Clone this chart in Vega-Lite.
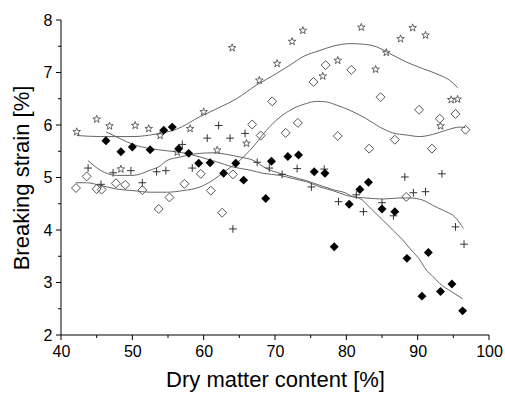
{
  "$schema": "https://vega.github.io/schema/vega-lite/v6.json",
  "width": 428,
  "height": 315,
  "autosize": {"type": "none"},
  "padding": {"left": 61, "top": 20, "right": 16, "bottom": 62},
  "background": "white",
  "config": {
    "view": {"stroke": null},
    "font": "Liberation Sans",
    "axis": {"grid": false, "labelFont": "Liberation Sans", "titleFont": "Liberation Sans", "titleFontWeight": "normal", "labelFontSize": 16, "titleFontSize": 22, "labelFlush": false, "labelOverlap": false, "labelColor": "black", "titleColor": "black"}
  },
  "datasets": {
    "frame": [
      {"k": "xaxis", "x": 40, "y": 2}, {"k": "xaxis", "x": 100, "y": 2},
      {"k": "yaxis", "x": 40, "y": 2}, {"k": "yaxis", "x": 40, "y": 8}
    ],
    "xmaj": [{"v": 40}, {"v": 50}, {"v": 60}, {"v": 70}, {"v": 80}, {"v": 90}, {"v": 100}],
    "xmin": [{"v": 45}, {"v": 55}, {"v": 65}, {"v": 75}, {"v": 85}, {"v": 95}],
    "ymaj": [{"v": 2}, {"v": 3}, {"v": 4}, {"v": 5}, {"v": 6}, {"v": 7}, {"v": 8}],
    "ymin": [{"v": 2.5}, {"v": 3.5}, {"v": 4.5}, {"v": 5.5}, {"v": 6.5}, {"v": 7.5}],
    "stars": [
      {"x": 42.2, "y": 5.87}, {"x": 45.0, "y": 6.11}, {"x": 46.8, "y": 5.98}, {"x": 48.4, "y": 5.16},
      {"x": 50.4, "y": 5.99}, {"x": 52.3, "y": 5.93}, {"x": 53.9, "y": 5.80}, {"x": 56.3, "y": 5.48},
      {"x": 58.1, "y": 5.93}, {"x": 60.0, "y": 6.25}, {"x": 61.9, "y": 5.52}, {"x": 64.0, "y": 7.47},
      {"x": 66.0, "y": 5.65}, {"x": 67.8, "y": 6.85}, {"x": 70.3, "y": 7.17}, {"x": 72.4, "y": 7.59},
      {"x": 73.9, "y": 7.80}, {"x": 76.7, "y": 6.93}, {"x": 78.8, "y": 7.23}, {"x": 82.1, "y": 7.86},
      {"x": 84.1, "y": 7.06}, {"x": 85.6, "y": 7.38}, {"x": 87.6, "y": 7.64}, {"x": 89.3, "y": 7.85},
      {"x": 91.1, "y": 7.71}, {"x": 93.2, "y": 5.98}, {"x": 94.7, "y": 6.48}, {"x": 95.6, "y": 6.49}
    ],
    "open": [
      {"x": 42.1, "y": 4.80}, {"x": 43.6, "y": 5.02}, {"x": 45.0, "y": 4.78}, {"x": 45.7, "y": 4.77},
      {"x": 47.7, "y": 4.89}, {"x": 49.0, "y": 4.86}, {"x": 51.4, "y": 4.76}, {"x": 53.7, "y": 4.40},
      {"x": 55.2, "y": 4.62}, {"x": 57.3, "y": 4.88}, {"x": 59.6, "y": 5.07}, {"x": 61.0, "y": 4.75},
      {"x": 62.6, "y": 4.33}, {"x": 64.1, "y": 5.06}, {"x": 66.8, "y": 6.01}, {"x": 68.0, "y": 5.80},
      {"x": 69.6, "y": 6.45}, {"x": 71.5, "y": 5.85}, {"x": 73.2, "y": 6.04}, {"x": 75.4, "y": 6.82},
      {"x": 77.1, "y": 7.14}, {"x": 78.8, "y": 5.79}, {"x": 80.7, "y": 7.05}, {"x": 83.2, "y": 5.55},
      {"x": 84.8, "y": 6.53}, {"x": 86.8, "y": 5.72}, {"x": 88.4, "y": 4.63}, {"x": 90.2, "y": 6.29},
      {"x": 92.0, "y": 5.55}, {"x": 93.1, "y": 6.12}, {"x": 95.3, "y": 6.21}, {"x": 96.7, "y": 5.91}
    ],
    "filled": [
      {"x": 46.3, "y": 5.70}, {"x": 48.4, "y": 5.49}, {"x": 50.0, "y": 5.58}, {"x": 52.5, "y": 5.53},
      {"x": 54.4, "y": 5.90}, {"x": 55.6, "y": 5.96}, {"x": 56.5, "y": 5.55}, {"x": 57.9, "y": 5.46},
      {"x": 59.3, "y": 5.27}, {"x": 60.9, "y": 5.28}, {"x": 62.8, "y": 5.08}, {"x": 64.5, "y": 5.27},
      {"x": 65.6, "y": 4.95}, {"x": 68.7, "y": 4.60}, {"x": 69.5, "y": 5.31}, {"x": 71.8, "y": 5.40},
      {"x": 73.3, "y": 5.43}, {"x": 75.5, "y": 5.11}, {"x": 77.0, "y": 5.08}, {"x": 78.3, "y": 3.68},
      {"x": 80.4, "y": 4.49}, {"x": 81.9, "y": 4.77}, {"x": 83.1, "y": 4.91}, {"x": 85.0, "y": 4.40},
      {"x": 86.8, "y": 4.35}, {"x": 88.5, "y": 3.46}, {"x": 90.6, "y": 2.74}, {"x": 91.5, "y": 3.57},
      {"x": 93.2, "y": 2.83}, {"x": 94.8, "y": 2.97}, {"x": 96.3, "y": 2.46}
    ],
    "crosses": [
      {"x": 43.8, "y": 5.18}, {"x": 45.6, "y": 4.87}, {"x": 47.3, "y": 5.09}, {"x": 49.8, "y": 5.13},
      {"x": 51.4, "y": 4.90}, {"x": 53.4, "y": 5.11}, {"x": 54.7, "y": 5.13}, {"x": 57.0, "y": 5.63},
      {"x": 58.4, "y": 5.18}, {"x": 60.5, "y": 5.75}, {"x": 62.1, "y": 5.99}, {"x": 63.7, "y": 5.75},
      {"x": 64.1, "y": 4.02}, {"x": 65.8, "y": 5.84}, {"x": 67.5, "y": 5.29}, {"x": 69.2, "y": 5.18},
      {"x": 71.0, "y": 5.06}, {"x": 73.1, "y": 5.17}, {"x": 75.1, "y": 4.82}, {"x": 76.9, "y": 5.16},
      {"x": 78.9, "y": 4.54}, {"x": 81.4, "y": 4.67}, {"x": 82.4, "y": 4.35}, {"x": 85.0, "y": 4.52},
      {"x": 86.6, "y": 4.27}, {"x": 88.2, "y": 5.01}, {"x": 89.4, "y": 4.71}, {"x": 91.1, "y": 4.73},
      {"x": 93.4, "y": 5.07}, {"x": 95.3, "y": 4.06}, {"x": 96.5, "y": 3.73}
    ],
    "curves": [
      {"s": "a", "x": 42.2, "y": 5.80}, {"s": "a", "x": 45.5, "y": 5.78}, {"s": "a", "x": 50.1, "y": 5.78},
      {"s": "a", "x": 53.4, "y": 5.83}, {"s": "a", "x": 56.2, "y": 5.92}, {"s": "a", "x": 59.5, "y": 6.16},
      {"s": "a", "x": 62.3, "y": 6.34}, {"s": "a", "x": 64.6, "y": 6.50}, {"s": "a", "x": 67.4, "y": 6.76},
      {"s": "a", "x": 70.2, "y": 6.98}, {"s": "a", "x": 72.1, "y": 7.14}, {"s": "a", "x": 73.9, "y": 7.30},
      {"s": "a", "x": 76.3, "y": 7.42}, {"s": "a", "x": 78.1, "y": 7.50}, {"s": "a", "x": 80.5, "y": 7.55},
      {"s": "a", "x": 82.3, "y": 7.54}, {"s": "a", "x": 84.2, "y": 7.49}, {"s": "a", "x": 86.1, "y": 7.36},
      {"s": "a", "x": 88.4, "y": 7.20}, {"s": "a", "x": 90.8, "y": 7.07}, {"s": "a", "x": 93.1, "y": 6.95},
      {"s": "a", "x": 94.5, "y": 6.85}, {"s": "a", "x": 95.6, "y": 6.71},

      {"s": "b", "x": 42.1, "y": 4.90}, {"s": "b", "x": 43.6, "y": 4.90}, {"s": "b", "x": 45.5, "y": 4.85},
      {"s": "b", "x": 47.8, "y": 4.78}, {"s": "b", "x": 50.1, "y": 4.75}, {"s": "b", "x": 52.5, "y": 4.72},
      {"s": "b", "x": 54.8, "y": 4.72}, {"s": "b", "x": 57.1, "y": 4.75}, {"s": "b", "x": 59.5, "y": 4.82},
      {"s": "b", "x": 61.3, "y": 4.95}, {"s": "b", "x": 63.2, "y": 5.14}, {"s": "b", "x": 65.1, "y": 5.33},
      {"s": "b", "x": 66.9, "y": 5.58}, {"s": "b", "x": 68.8, "y": 5.90}, {"s": "b", "x": 70.7, "y": 6.15},
      {"s": "b", "x": 72.5, "y": 6.31}, {"s": "b", "x": 74.4, "y": 6.41}, {"s": "b", "x": 75.8, "y": 6.45},
      {"s": "b", "x": 77.2, "y": 6.44}, {"s": "b", "x": 78.6, "y": 6.38}, {"s": "b", "x": 80.5, "y": 6.28},
      {"s": "b", "x": 82.8, "y": 6.12}, {"s": "b", "x": 84.7, "y": 5.96}, {"s": "b", "x": 86.5, "y": 5.85},
      {"s": "b", "x": 88.4, "y": 5.81}, {"s": "b", "x": 90.3, "y": 5.78}, {"s": "b", "x": 92.1, "y": 5.82},
      {"s": "b", "x": 94.0, "y": 5.90}, {"s": "b", "x": 95.9, "y": 5.96}, {"s": "b", "x": 96.7, "y": 5.95},

      {"s": "c", "x": 43.8, "y": 5.32}, {"s": "c", "x": 45.5, "y": 5.14}, {"s": "c", "x": 47.8, "y": 5.04},
      {"s": "c", "x": 50.1, "y": 5.04}, {"s": "c", "x": 52.5, "y": 5.14}, {"s": "c", "x": 53.9, "y": 5.22},
      {"s": "c", "x": 54.8, "y": 5.32}, {"s": "c", "x": 56.7, "y": 5.39}, {"s": "c", "x": 59.5, "y": 5.46},
      {"s": "c", "x": 61.3, "y": 5.47}, {"s": "c", "x": 63.2, "y": 5.44}, {"s": "c", "x": 65.1, "y": 5.39},
      {"s": "c", "x": 66.9, "y": 5.33}, {"s": "c", "x": 68.8, "y": 5.17}, {"s": "c", "x": 70.7, "y": 5.08},
      {"s": "c", "x": 72.5, "y": 5.01}, {"s": "c", "x": 74.4, "y": 4.94}, {"s": "c", "x": 76.3, "y": 4.85},
      {"s": "c", "x": 78.1, "y": 4.77}, {"s": "c", "x": 80.0, "y": 4.70}, {"s": "c", "x": 81.0, "y": 4.63},
      {"s": "c", "x": 82.8, "y": 4.61}, {"s": "c", "x": 85.1, "y": 4.59}, {"s": "c", "x": 87.4, "y": 4.61},
      {"s": "c", "x": 88.9, "y": 4.61}, {"s": "c", "x": 90.7, "y": 4.57}, {"s": "c", "x": 92.1, "y": 4.47},
      {"s": "c", "x": 93.5, "y": 4.38}, {"s": "c", "x": 95.4, "y": 4.22}, {"s": "c", "x": 96.4, "y": 4.03},

      {"s": "d", "x": 46.3, "y": 5.87}, {"s": "d", "x": 48.3, "y": 5.74}, {"s": "d", "x": 50.1, "y": 5.63},
      {"s": "d", "x": 52.5, "y": 5.55}, {"s": "d", "x": 54.8, "y": 5.51}, {"s": "d", "x": 57.1, "y": 5.47},
      {"s": "d", "x": 59.5, "y": 5.39}, {"s": "d", "x": 61.8, "y": 5.30}, {"s": "d", "x": 64.1, "y": 5.20},
      {"s": "d", "x": 66.5, "y": 5.14}, {"s": "d", "x": 68.3, "y": 5.08}, {"s": "d", "x": 70.7, "y": 5.04},
      {"s": "d", "x": 72.5, "y": 4.98}, {"s": "d", "x": 74.4, "y": 4.92}, {"s": "d", "x": 76.3, "y": 4.82},
      {"s": "d", "x": 78.1, "y": 4.75}, {"s": "d", "x": 80.0, "y": 4.66}, {"s": "d", "x": 81.9, "y": 4.60},
      {"s": "d", "x": 83.5, "y": 4.40}, {"s": "d", "x": 85.1, "y": 4.19}, {"s": "d", "x": 86.5, "y": 4.00},
      {"s": "d", "x": 87.9, "y": 3.81}, {"s": "d", "x": 89.1, "y": 3.62}, {"s": "d", "x": 90.3, "y": 3.43},
      {"s": "d", "x": 91.2, "y": 3.24}, {"s": "d", "x": 92.1, "y": 3.12}, {"s": "d", "x": 93.1, "y": 2.98},
      {"s": "d", "x": 94.7, "y": 2.83}, {"s": "d", "x": 96.3, "y": 2.69}
    ]
  },
  "layer": [
    {
      "data": {"name": "curves"},
      "mark": {"type": "line", "stroke": "#666666", "strokeWidth": 1, "interpolate": "monotone"},
      "encoding": {
        "x": {"field": "x", "type": "quantitative", "scale": {"domain": [40, 100], "nice": false, "zero": false},
              "axis": {"orient": "bottom", "values": [40, 50, 60, 70, 80, 90, 100],
                       "domain": false, "ticks": false,
                       "labelPadding": 8, "title": "Dry matter content [%]", "titlePadding": 10}},
        "y": {"field": "y", "type": "quantitative", "scale": {"domain": [2, 8], "nice": false, "zero": false},
              "axis": {"orient": "left", "values": [2, 3, 4, 5, 6, 7, 8],
                       "domain": false, "ticks": false,
                       "labelPadding": 9, "title": "Breaking strain [%]", "titlePadding": 10}},
        "detail": {"field": "s"}
      }
    },
    {
      "data": {"name": "frame"},
      "mark": {"type": "line", "stroke": "black", "strokeWidth": 1, "interpolate": "linear"},
      "encoding": {"x": {"field": "x", "type": "quantitative"}, "y": {"field": "y", "type": "quantitative"}, "detail": {"field": "k"}}
    },
    {
      "data": {"name": "xmaj"},
      "mark": {"type": "point", "shape": "M0,0L0,1", "size": 100, "filled": false, "stroke": "black", "strokeWidth": 1, "opacity": 1},
      "encoding": {"x": {"field": "v", "type": "quantitative"}, "y": {"datum": 2, "type": "quantitative"}}
    },
    {
      "data": {"name": "xmin"},
      "mark": {"type": "point", "shape": "M0,0L0,1", "size": 36, "filled": false, "stroke": "black", "strokeWidth": 1, "opacity": 1},
      "encoding": {"x": {"field": "v", "type": "quantitative"}, "y": {"datum": 2, "type": "quantitative"}}
    },
    {
      "data": {"name": "ymaj"},
      "mark": {"type": "point", "shape": "M0,0L-1,0", "size": 100, "filled": false, "stroke": "black", "strokeWidth": 1, "opacity": 1},
      "encoding": {"y": {"field": "v", "type": "quantitative"}, "x": {"datum": 40, "type": "quantitative"}}
    },
    {
      "data": {"name": "ymin"},
      "mark": {"type": "point", "shape": "M0,0L-1,0", "size": 36, "filled": false, "stroke": "black", "strokeWidth": 1, "opacity": 1},
      "encoding": {"y": {"field": "v", "type": "quantitative"}, "x": {"datum": 40, "type": "quantitative"}}
    },
    {
      "data": {"name": "stars"},
      "mark": {"type": "point", "shape": "M0,-1L0.235,-0.324L0.951,-0.309L0.38,0.124L0.588,0.809L0,0.4L-0.588,0.809L-0.38,0.124L-0.951,-0.309L-0.235,-0.324Z", "size": 64, "filled": false, "stroke": "#555555", "strokeWidth": 0.9, "opacity": 1},
      "encoding": {"x": {"field": "x", "type": "quantitative"}, "y": {"field": "y", "type": "quantitative"}}
    },
    {
      "data": {"name": "open"},
      "mark": {"type": "point", "shape": "diamond", "size": 80, "filled": false, "stroke": "#555555", "strokeWidth": 1, "opacity": 1},
      "encoding": {"x": {"field": "x", "type": "quantitative"}, "y": {"field": "y", "type": "quantitative"}}
    },
    {
      "data": {"name": "crosses"},
      "mark": {"type": "point", "shape": "M-1,0L1,0M0,-1L0,1", "size": 60, "filled": false, "stroke": "#333333", "strokeWidth": 1, "opacity": 1},
      "encoding": {"x": {"field": "x", "type": "quantitative"}, "y": {"field": "y", "type": "quantitative"}}
    },
    {
      "data": {"name": "filled"},
      "mark": {"type": "point", "shape": "diamond", "size": 80, "filled": true, "fill": "black", "opacity": 1},
      "encoding": {"x": {"field": "x", "type": "quantitative"}, "y": {"field": "y", "type": "quantitative"}}
    }
  ]
}
